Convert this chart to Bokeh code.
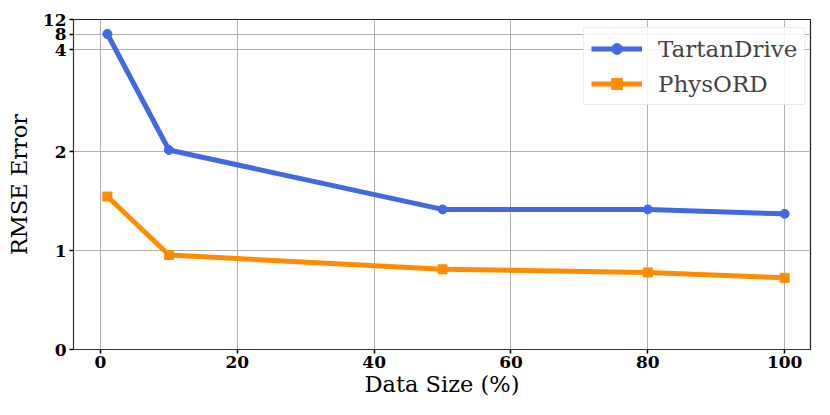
import numpy as np
from bokeh.plotting import figure
from bokeh.models import Range1d, FixedTicker
from bokeh.embed import file_html
from bokeh.resources import INLINE

# data
data_size = [1, 10, 50, 80, 100]
tartandrive = [8.0, 2.03, 1.415, 1.415, 1.37]
physord = [1.545, 0.955, 0.81, 0.778, 0.724]
y_ticks = [0, 1, 2, 4, 8, 12]
x_ticks = [0, 20, 40, 60, 80, 100]

# custom (piecewise) y scale: tick value -> screen position
scale_vals = [0, 1, 2, 4, 8, 12]
scale_pos = [0, 99, 198, 300, 315.5, 330]


def ty(v):
    return list(np.interp(np.asarray(v, dtype=float), scale_vals, scale_pos))


SERIF = "DejaVu Serif"

p = figure(width=814, height=399, output_backend="svg", toolbar_location=None,
           x_range=Range1d(-3.95, 103.78), y_range=Range1d(0, 330),
           min_border_left=73, min_border_right=4, min_border_top=19, min_border_bottom=50)

p.line(data_size, ty(tartandrive), color="#4169E1", line_width=5, legend_label="TartanDrive")
p.scatter(data_size, ty(tartandrive), marker="circle", size=9, color="#4169E1", legend_label="TartanDrive")
p.line(data_size, ty(physord), color="#FF8C00", line_width=5, legend_label="PhysORD")
p.scatter(data_size, ty(physord), marker="square", size=9, color="#FF8C00", legend_label="PhysORD")

ytp = ty(y_ticks)
p.yaxis.ticker = FixedTicker(ticks=ytp)
p.yaxis.major_label_overrides = {float(t): str(v) for t, v in zip(ytp, y_ticks)}
p.xaxis.ticker = FixedTicker(ticks=x_ticks)

for ax in (p.xaxis, p.yaxis):
    ax.major_label_text_font = SERIF
    ax.major_label_text_font_style = "bold"
    ax.major_label_text_font_size = "17px"
    ax.major_label_text_color = "black"
    ax.axis_label_text_font = SERIF
    ax.axis_label_text_font_style = "normal"
    ax.axis_label_text_font_size = "22.5px"
    ax.axis_label_text_color = "black"
    ax.minor_tick_line_color = None
    ax.major_tick_out = 4
    ax.major_tick_in = 0
    ax.major_tick_line_width = 1.5
    ax.axis_line_color = "#333333"
    ax.major_tick_line_color = "black"

p.xaxis.axis_label = "Data Size (%)"
p.yaxis.axis_label = "RMSE Error"
p.xaxis.major_label_standoff = 2
p.xaxis.axis_label_standoff = 0
p.yaxis.major_label_standoff = 3
p.yaxis.axis_label_standoff = 8

p.grid.grid_line_color = "#b0b0b0"
p.grid.grid_line_width = 1
p.outline_line_color = "#222222"
p.outline_line_width = 1.2

leg = p.legend[0]
leg.location = (510, 244)
leg.margin = 0
leg.label_text_font = SERIF
leg.label_text_font_size = "23px"
leg.border_line_color = "#d8d8d8"
leg.border_line_width = 1
leg.background_fill_alpha = 0.85
leg.glyph_width = 51
leg.glyph_height = 27
leg.label_height = 27
leg.label_standoff = 16
leg.padding = 7
leg.spacing = 8

open("out.html", "w").write(file_html(p, INLINE))
